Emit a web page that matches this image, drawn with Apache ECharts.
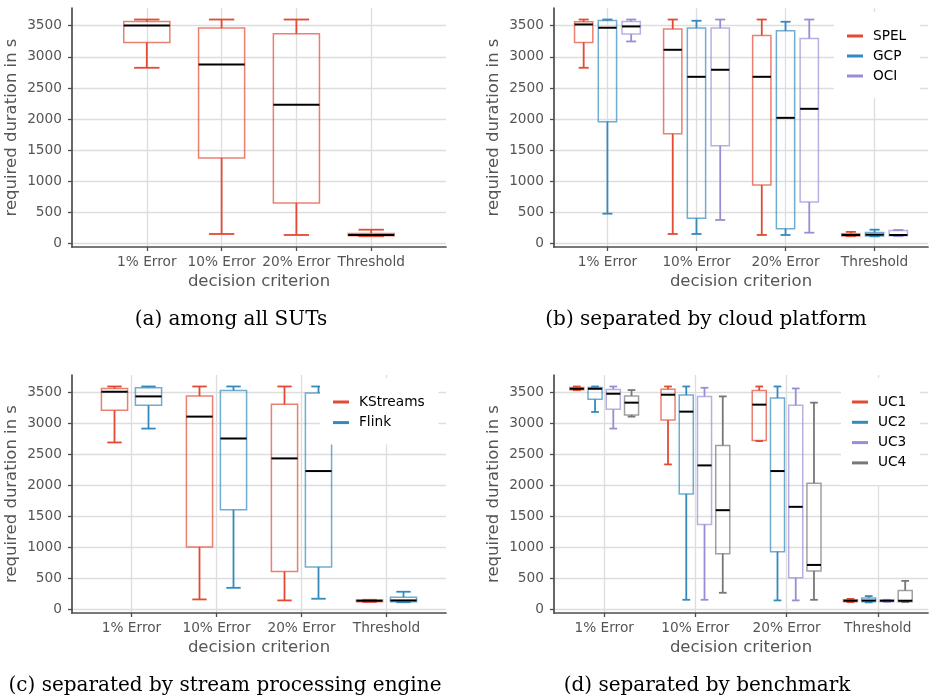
<!DOCTYPE html>
<html>
<head>
<meta charset="utf-8">
<script src="https://cdn.jsdelivr.net/npm/echarts@6/dist/echarts.min.js"></script>
<style>
  html, body { margin: 0; padding: 0; background: #fff; }
  #main { width: 929px; height: 698px; }
</style>
</head>
<body>
<div id="main"></div>
<script>
// decision criteria on the x axis
var criteria = ['1% Error', '10% Error', '20% Error', 'Threshold'];
var yTicks = [0, 500, 1000, 1500, 2000, 2500, 3000, 3500];

// every box is [min, Q1, median, Q3, max], one per criterion
// (a) among all SUTs
var allSUTs = [[2825, 3232, 3505, 3569, 3600], [156, 1378, 2878, 3463, 3600], [140, 654, 2230, 3371, 3600], [120, 128, 140, 165, 225]];
// (b) cloud platforms
var spel = [[2825, 3232, 3521, 3564, 3600], [156, 1764, 3114, 3446, 3600], [140, 944, 2680, 3344, 3600], [120, 125, 140, 160, 190]];
var gcp = [[482, 1957, 3468, 3585, 3600], [156, 408, 2680, 3463, 3580], [140, 241, 2021, 3420, 3564], [118, 125, 145, 180, 225]];
var oci = [[3248, 3366, 3489, 3569, 3600], [381, 1571, 2793, 3463, 3600], [177, 670, 2166, 3296, 3600], [120, 128, 140, 210, 220]];
// (c) stream processing engines
var kstreams = [[2697, 3215, 3515, 3568, 3600], [166, 1011, 3114, 3446, 3600], [150, 615, 2440, 3312, 3600], [125, 130, 145, 155, 160]];
var flink = [[2921, 3296, 3440, 3579, 3600], [353, 1610, 2761, 3536, 3600], [177, 690, 2236, 3494, 3600], [120, 130, 150, 200, 290]];
// (d) benchmarks
var uc1 = [[3540, 3548, 3563, 3585, 3600], [2343, 3061, 3467, 3557, 3600], [2720, 2729, 3307, 3536, 3600], [122, 128, 145, 160, 175]];
var uc2 = [[3189, 3392, 3563, 3585, 3600], [160, 1867, 3194, 3462, 3600], [150, 936, 2236, 3414, 3600], [118, 128, 148, 190, 220]];
var uc3 = [[2921, 3231, 3483, 3552, 3600], [160, 1375, 2327, 3440, 3579], [150, 514, 1659, 3296, 3568], [125, 130, 145, 155, 160]];
var uc4 = [[3114, 3141, 3339, 3446, 3542], [273, 904, 1605, 2648, 3440], [160, 626, 722, 2039, 3339], [122, 130, 145, 310, 465]];

var RED = '#E24A33', BLUE = '#348ABD', PURPLE = '#988ED5', GRAY = '#777777';
var SANS = 'DejaVu Sans';
var SERIF = 'DejaVu Serif';

var myChart = echarts.init(document.getElementById('main'));

var grids = [
  { left: 72, top: 8, width: 374, height: 239 },
  { left: 554, top: 8, width: 374, height: 239 },
  { left: 72, top: 375, width: 374, height: 238 },
  { left: 554, top: 375, width: 374, height: 238 }
];
var xRanges = [[-1, 4], [-0.6, 3.6], [-0.7, 3.7], [-0.55, 3.55]];

var xAxes = xRanges.map(function (r, i) {
  return {
    type: 'value', gridIndex: i, min: r[0], max: r[1],
    name: 'decision criterion', nameLocation: 'middle', nameGap: 26,
    nameTextStyle: { fontSize: 16.5, color: '#555', fontFamily: SANS },
    axisLine: { onZero: false, lineStyle: { color: '#4D4D4D', width: 1.7 } },
    axisTick: { length: 4, customValues: [0, 1, 2, 3], lineStyle: { color: '#4D4D4D', width: 1.3 } },
    axisLabel: {
      customValues: [0, 1, 2, 3], margin: 8, fontSize: 13.7, color: '#555', fontFamily: SANS,
      formatter: function (v) { return criteria[v] || ''; }
    },
    splitLine: { show: true, lineStyle: { color: '#DDDDDD', width: 1.3 } }
  };
});

var yAxes = grids.map(function (g, i) {
  return {
    type: 'value', gridIndex: i, min: -53, max: 3785,
    name: 'required duration in s', nameLocation: 'middle', nameGap: 52,
    nameTextStyle: { fontSize: 16.5, color: '#555', fontFamily: SANS },
    axisLine: { show: true, onZero: false, lineStyle: { color: '#4D4D4D', width: 1.7 } },
    axisTick: { show: true, length: 4, customValues: yTicks, lineStyle: { color: '#4D4D4D', width: 1.3 } },
    axisLabel: {
      customValues: yTicks, margin: 10, fontSize: 13.7, color: '#555', fontFamily: SANS,
      formatter: function (v) { return String(v); }
    },
    splitLine: { show: true, lineStyle: { color: '#DDDDDD', width: 1.3 } }
  };
});

// one dodged box series; k-th of n groups in a panel
function boxSeries(name, values, panel, k, n, color) {
  var step = 0.8 / n;
  var off = (k - (n - 1) / 2) * step;
  var boxW = 0.77 * step;
  return {
    type: 'custom', name: name, xAxisIndex: panel, yAxisIndex: panel,
    itemStyle: { color: color },
    encode: { x: 0, y: [1, 2, 3, 4, 5] },
    data: values.map(function (v, i) { return [i].concat(v); }),
    renderItem: function (params, api) {
      var cx = api.coord([api.value(0) + off, 0])[0];
      var yOf = function (d) { return api.coord([0, api.value(d)])[1]; };
      var half = api.size([boxW, 0])[0] / 2;
      var capHalf = half * 0.55;
      var lo = yOf(1), q1 = yOf(2), md = yOf(3), q3 = yOf(4), hi = yOf(5);
      var solid = { stroke: color, lineWidth: 1.8 };
      return {
        type: 'group',
        children: [
          { type: 'rect', shape: { x: cx - half, y: q3, width: half * 2, height: q1 - q3 },
            style: { fill: 'none', stroke: color, lineWidth: 1.5, opacity: 0.7 } },
          { type: 'line', shape: { x1: cx, y1: q3, x2: cx, y2: hi }, style: solid },
          { type: 'line', shape: { x1: cx, y1: q1, x2: cx, y2: lo }, style: solid },
          { type: 'line', shape: { x1: cx - capHalf, y1: hi, x2: cx + capHalf, y2: hi }, style: solid },
          { type: 'line', shape: { x1: cx - capHalf, y1: lo, x2: cx + capHalf, y2: lo }, style: solid },
          { type: 'line', shape: { x1: cx - half, y1: md, x2: cx + half, y2: md },
            style: { stroke: '#000', lineWidth: 2 } }
        ]
      };
    }
  };
}

function legendAt(left, top, padLeft, gap, names, colors) {
  return {
    orient: 'vertical', left: left, top: top, padding: [16, 14, 14, padLeft],
    itemWidth: 16, itemHeight: 3, itemGap: gap, icon: 'rect',
    backgroundColor: '#fff', selectedMode: false,
    textStyle: { fontSize: 13.7, color: '#000', fontFamily: SANS, lineHeight: 16, padding: [0, 0, 0, 5] },
    data: names.map(function (n, i) { return { name: n, itemStyle: { color: colors[i] } }; })
  };
}

function caption(text, x, y) {
  return {
    type: 'text', x: x, y: y,
    style: { text: text, fontSize: 20, fontFamily: SERIF, fill: '#000', align: 'center', verticalAlign: 'middle' }
  };
}

option = {
  animation: false,
  grid: grids,
  xAxis: xAxes,
  yAxis: yAxes,
  legend: [
    legendAt(834, 12, 13, 4, ['SPEL', 'GCP', 'OCI'], [RED, BLUE, PURPLE]),
    legendAt(320, 378, 13, 4.6, ['KStreams', 'Flink'], [RED, BLUE]),
    legendAt(841, 378, 11, 4.3, ['UC1', 'UC2', 'UC3', 'UC4'], [RED, BLUE, PURPLE, GRAY])
  ],
  series: [
    boxSeries('all SUTs', allSUTs, 0, 0, 1, RED),
    boxSeries('SPEL', spel, 1, 0, 3, RED),
    boxSeries('GCP', gcp, 1, 1, 3, BLUE),
    boxSeries('OCI', oci, 1, 2, 3, PURPLE),
    boxSeries('KStreams', kstreams, 2, 0, 2, RED),
    boxSeries('Flink', flink, 2, 1, 2, BLUE),
    boxSeries('UC1', uc1, 3, 0, 4, RED),
    boxSeries('UC2', uc2, 3, 1, 4, BLUE),
    boxSeries('UC3', uc3, 3, 2, 4, PURPLE),
    boxSeries('UC4', uc4, 3, 3, 4, GRAY)
  ],
  graphic: [
    caption('(a) among all SUTs', 231, 320),
    caption('(b) separated by cloud platform', 706, 320),
    caption('(c) separated by stream processing engine', 225, 686),
    caption('(d) separated by benchmark', 707, 686)
  ]
};

myChart.setOption(option);
</script>
</body>
</html>
